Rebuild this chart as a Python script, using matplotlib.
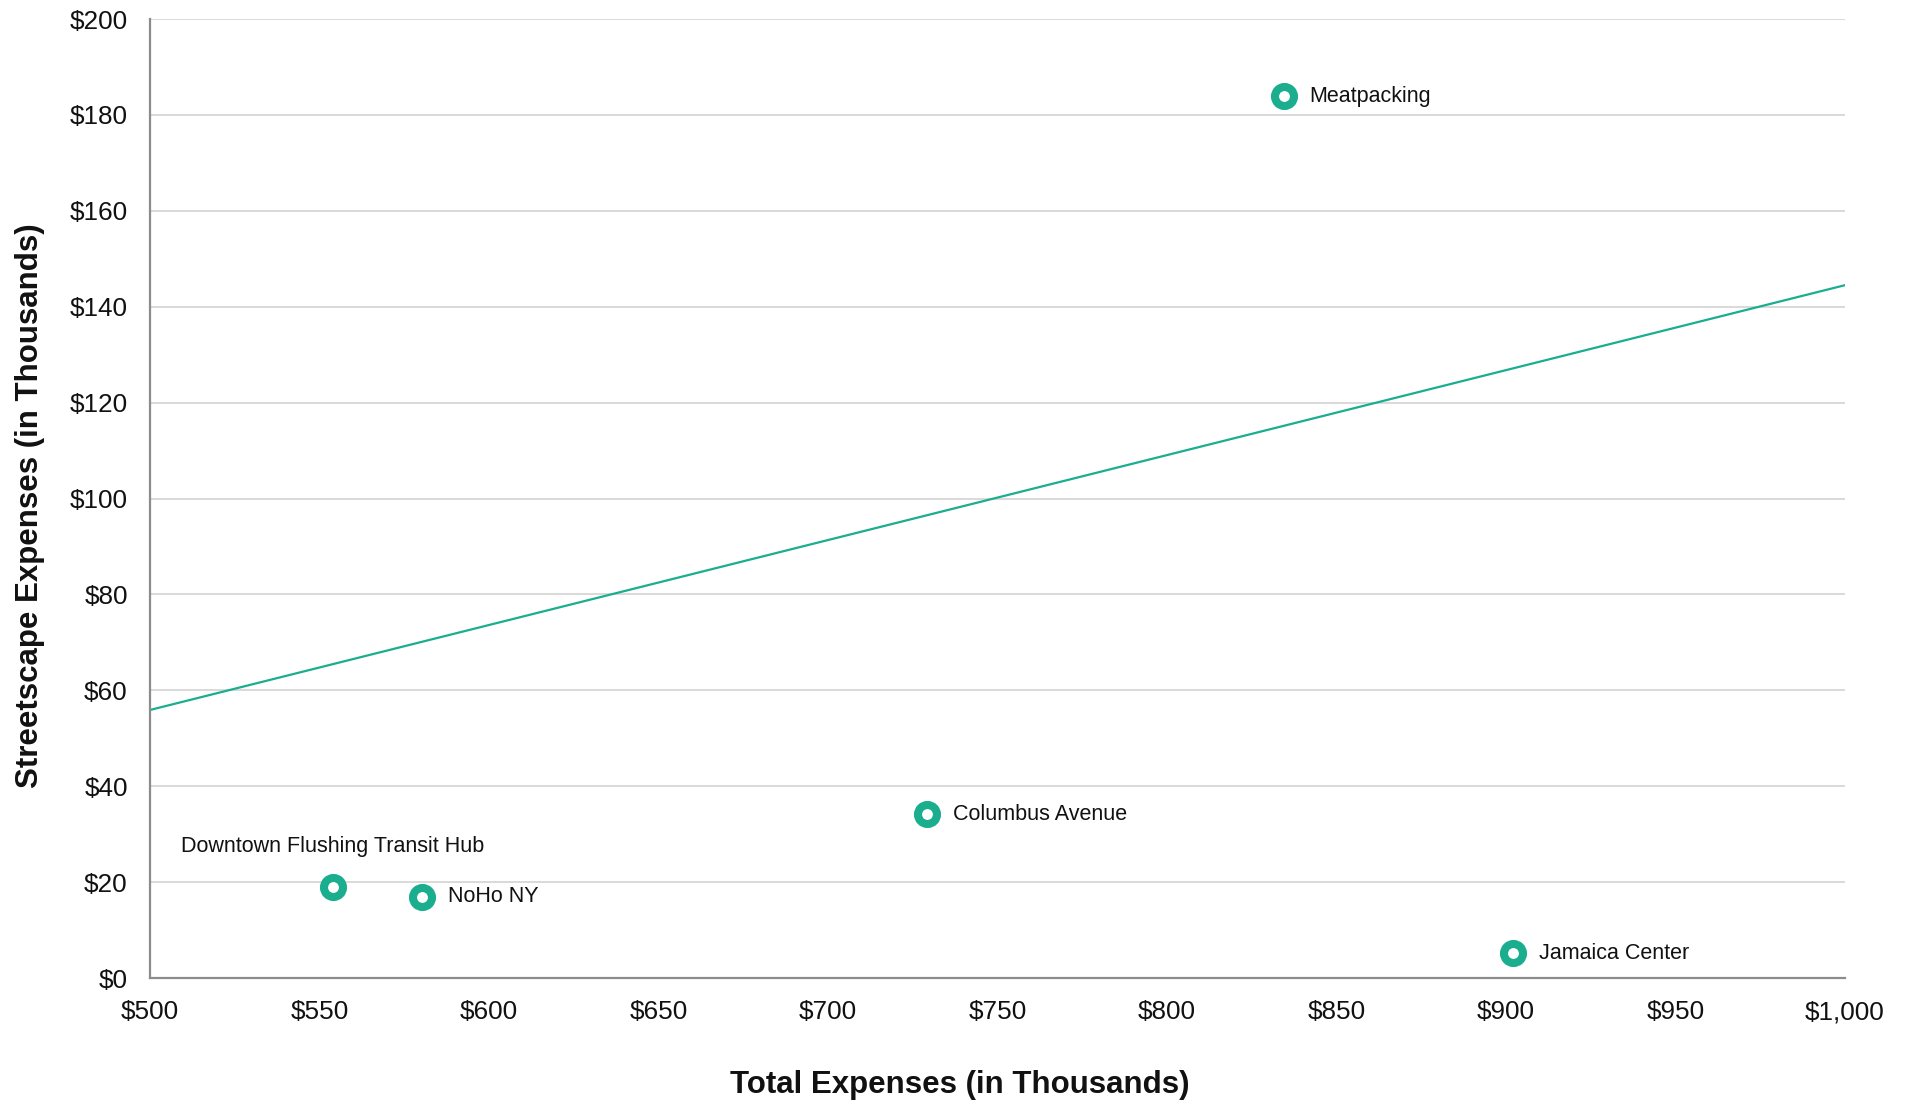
import matplotlib
matplotlib.use("Agg")
import matplotlib.pyplot as plt
from matplotlib.ticker import FuncFormatter

plt.rcParams['font.family'] = ['Liberation Sans', 'DejaVu Sans']

# Business improvement districts: total vs. streetscape expenses ($ thousands)
districts = ["Meatpacking", "Downtown Flushing Transit Hub", "NoHo NY",
             "Columbus Avenue", "Jamaica Center"]
total_expenses = [834.5, 554.0, 580.2, 729.2, 902.0]
streetscape_expenses = [183.9, 19.0, 16.9, 34.2, 5.2]

# Trend line end points
trend_x = [500, 1000]
trend_y = [55.9, 144.5]

x_ticks = list(range(500, 1001, 50))
y_ticks = list(range(0, 201, 20))

TEAL = "#1AAE8E"

fig = plt.figure(figsize=(19.10, 11.01), dpi=100)
ax = fig.add_axes([0.0785, 0.1117, 0.8875, 0.871])

ax.plot(trend_x, trend_y, color=TEAL, linewidth=1.6, zorder=2)
ax.plot(total_expenses, streetscape_expenses, linestyle="none", marker="o",
        markersize=13.7, markerfacecolor="white", markeredgecolor=TEAL,
        markeredgewidth=5.8, zorder=3)

for name, xv, yv in zip(districts, total_expenses, streetscape_expenses):
    if name == "Downtown Flushing Transit Hub":
        ax.annotate(name, (xv, yv), xytext=(0, 29), textcoords="offset points",
                    ha="center", va="center", fontsize=15.5, color="#111111")
    else:
        ax.annotate(name, (xv, yv), xytext=(18.5, 0), textcoords="offset points",
                    ha="left", va="center", fontsize=15.5, color="#111111")

ax.set_xlim(500, 1000)
ax.set_ylim(0, 200)
ax.set_xticks(x_ticks)
ax.set_yticks(y_ticks)
ax.xaxis.set_major_formatter(FuncFormatter(lambda v, p: f"${v:,.0f}"))
ax.yaxis.set_major_formatter(FuncFormatter(lambda v, p: f"${v:,.0f}"))
ax.tick_params(axis="both", length=0, labelsize=18.8, colors="#111111")
ax.tick_params(axis="x", pad=16)
ax.tick_params(axis="y", pad=16)

ax.grid(axis="y", color="#D9D9D9", linewidth=1.4)
ax.set_axisbelow(True)
for side in ("top", "right"):
    ax.spines[side].set_visible(False)
for side in ("left", "bottom"):
    ax.spines[side].set_color("#8C8C8C")
    ax.spines[side].set_linewidth(1.6)

ax.set_xlabel("Total Expenses (in Thousands)", fontsize=22.5, fontweight="bold",
              labelpad=33, color="#111111")
ax.set_ylabel("Streetscape Expenses (in Thousands)", fontsize=22.5, fontweight="bold",
              labelpad=18, color="#111111")
# Center the x title on the figure rather than on the plot area
ax.xaxis.label.set_x(0.478)
ax.yaxis.label.set_y(0.493)

fig.savefig("out.png", dpi=100, facecolor="white")
